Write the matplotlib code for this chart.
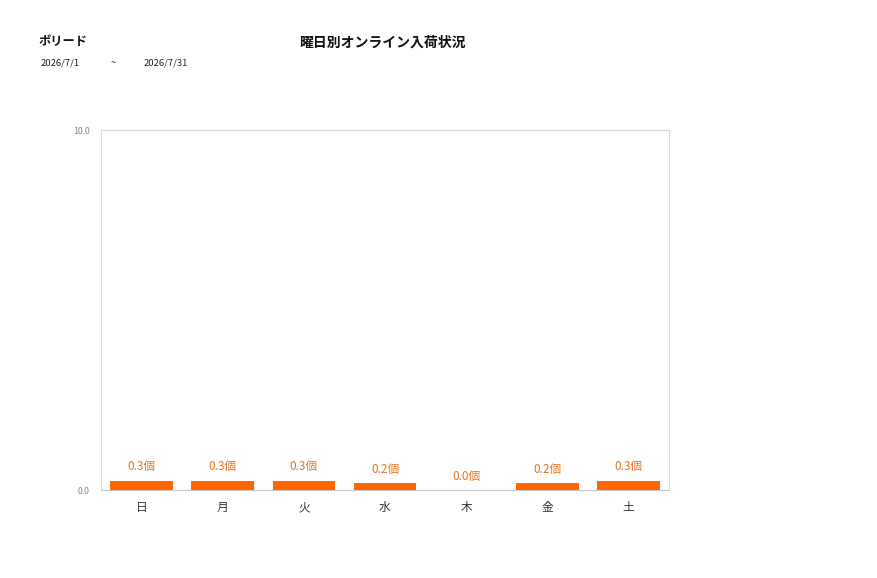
import matplotlib
matplotlib.use("Agg")
import matplotlib.pyplot as plt

plt.rcParams['font.family'] = ['Noto Sans CJK JP', 'DejaVu Sans']

days   = ["日", "月", "火", "水", "木", "金", "土"]
values = [0.26, 0.26, 0.26, 0.19, 0.0, 0.19, 0.26]
yticks = [0.0, 10.0]

BAR  = "#ff6600"
TXT  = "#e8731e"
GRID = "#d9d9d9"

fig = plt.figure(figsize=(8.77, 5.78), dpi=100)
fig.patch.set_facecolor("white")
W, H = 877, 578
ax = fig.add_axes([101 / W, 1 - 490 / H, 568 / W, 360 / H])

x = range(len(days))
ax.bar(x, values, width=0.77, color=BAR, zorder=2)
for i, v in zip(x, values):
    ax.text(i, v + 0.2, f"{v:.1f}個", ha="center", va="bottom",
            fontsize=8.5, color=TXT)

ax.set_xlim(-0.5, len(days) - 0.5)
ax.set_ylim(0, 10)
ax.set_yticks(yticks)
ax.set_yticklabels([f"{t:.1f}" for t in yticks], fontsize=6.3, color="#888888")
ax.set_xticks(list(x))
ax.set_xticklabels(days, fontsize=8.5, color="#333333")
ax.tick_params(axis="both", length=0)
ax.tick_params(axis="x", pad=8)
ax.tick_params(axis="y", pad=8)
for s in ax.spines.values():
    s.set_color(GRID)
    s.set_linewidth(0.8)
ax.spines["bottom"].set_color("#c8c8c8")

fig.text(38 / W, 1 - 42 / H, "ボリード", fontsize=8.8, fontweight="bold",
         ha="left", va="center", color="#111111")
fig.text(382 / W, 1 - 43 / H, "曜日別オンライン入荷状況", fontsize=10,
         fontweight="bold", ha="center", va="center", color="#111111")
fig.text(41 / W, 1 - 63 / H, "2026/7/1", fontsize=6.8, ha="left", va="center",
         color="#222222")
fig.text(113 / W, 1 - 63 / H, "~", fontsize=6.8, ha="center", va="center",
         color="#222222")
fig.text(144 / W, 1 - 63 / H, "2026/7/31", fontsize=6.8, ha="left", va="center",
         color="#222222")

fig.savefig("out.png", dpi=100, facecolor="white")
